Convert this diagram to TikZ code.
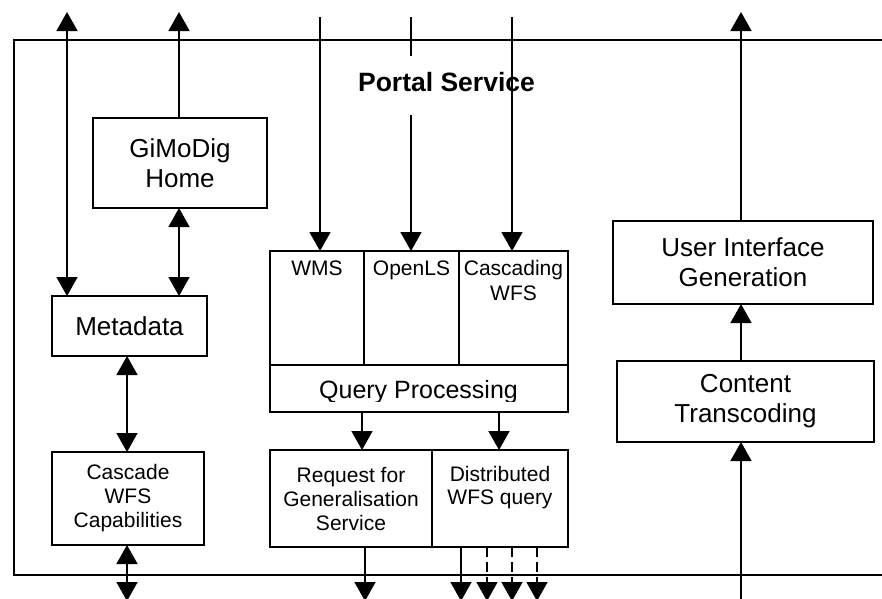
\documentclass[tikz,border=0pt]{standalone}
\usepackage{fontspec}
\setmainfont{Liberation Sans}
\usetikzlibrary{arrows.meta}
\begin{document}
\begin{tikzpicture}[x=1pt,y=-1pt,
  every node/.style={inner sep=0pt, outer sep=0pt},
  box/.style={draw, line width=1.6pt},
  big/.style={font=\fontsize{26}{30}\selectfont, align=center},
  small/.style={font=\fontsize{21}{24}\selectfont, align=center},
  plain/.style={line width=1.6pt},
  link/.style={plain, -{Triangle[length=19pt,width=21pt]}},
  both/.style={plain, {Triangle[length=19pt,width=21pt]}-{Triangle[length=19pt,width=21pt]}},
  dashlink/.style={link, dash pattern=on 10pt off 5pt},
]
\useasboundingbox (0,0) rectangle (882,598);
\clip (0,0) rectangle (882,598);

% service frame, open to the right
\draw[plain] (882,40) -- (14,40) -- (14,575) -- (882,575);

\node[font=\bfseries\fontsize{26.5}{30}\selectfont, anchor=base] (title) at (446.5,91) {Portal Service};

% left column
\node[box, big, minimum width=174pt, minimum height=90pt] (home) at (180,163) {GiMoDig\\Home};
\node[box, big, minimum width=155pt, minimum height=60pt] (meta) at (129.5,326) {Metadata};
\node[box, small, minimum width=152pt, minimum height=93pt] (casc) at (128,498.5) {Cascade\\WFS\\Capabilities};

% service interfaces and query processing
\node[box, minimum width=94pt, minimum height=114pt] (wms) at (317,308) {};
\node[box, minimum width=95pt, minimum height=114pt] (openls) at (411.5,308) {};
\node[box, minimum width=109pt, minimum height=114pt] (cwfs) at (513.5,308) {};
\node[small, anchor=base] (wmsT) at (317,275) {WMS};
\node[small, anchor=base] (openlsT) at (411.5,275) {OpenLS};
\node[small, anchor=base] (cwfsT1) at (513.5,275) {Cascading};
\node[small, anchor=base] (cwfsT2) at (513.5,300) {WFS};

\node[box, minimum width=298pt, minimum height=47pt] (qp) at (419,388.5) {};
\begin{scope}
  \clip (270,365) rectangle (568,401);
  \node[font=\fontsize{25}{29}\selectfont, anchor=base] (qpT) at (418.5,398) {Query Processing};
\end{scope}

\node[box, small, minimum width=162pt, minimum height=97pt] (req) at (351,498.5) {Request for\\Generalisation\\Service};
\node[box, minimum width=136pt, minimum height=97pt] (dist) at (500,498.5) {};
\node[small, anchor=base] (distT1) at (500,481.5) {Distributed};
\node[small, anchor=base] (distT2) at (500,504.5) {WFS query};

% right column
\node[box, big, minimum width=260pt, minimum height=83pt] (uig) at (743,262.5) {User Interface\\Generation};
\node[box, big, minimum width=257pt, minimum height=81pt] (ct) at (745.5,401.5) {Content\\Transcoding};

% connectors of the left column
\coordinate (topA) at (67,12);
\coordinate (topB) at (179,12);
\coordinate (colC) at (127,0);
\coordinate (botC) at (127,601);
\draw[both] (topA) -- (topA |- meta.north);
\draw[link] (home.north -| topB) -- (topB);
\draw[both] (home.south -| topB) -- (meta.north -| topB);
\draw[both] (meta.south -| colC) -- (casc.north -| colC);
\draw[both] (casc.south -| botC) -- (botC);

% incoming requests
\coordinate (inW) at (320,17);
\coordinate (inO) at (411,17);
\coordinate (gapA) at (411,56);
\coordinate (gapB) at (411,115);
\coordinate (inC) at (512,17);
\draw[link] (inW) -- (inW |- wms.north);
\draw[plain] (inO) -- (gapA);
\draw[link] (gapB) -- (gapB |- openls.north);
\draw[link] (inC) -- (inC |- cwfs.north);

% query processing to outgoing requests
\coordinate (q1) at (362,0);
\coordinate (q2) at (499,0);
\draw[link] (qp.south -| q1) -- (req.north -| q1);
\draw[link] (qp.south -| q2) -- (dist.north -| q2);

\coordinate (outR) at (365,601);
\coordinate (outD1) at (461,601);
\coordinate (outD2) at (487,601);
\coordinate (outD3) at (512,601);
\coordinate (outD4) at (537,601);
\draw[link] (req.south -| outR) -- (outR);
\draw[link] (dist.south -| outD1) -- (outD1);
\draw[dashlink] (dist.south -| outD2) -- (outD2);
\draw[dashlink] (dist.south -| outD3) -- (outD3);
\draw[dashlink] (dist.south -| outD4) -- (outD4);

% connectors of the right column
\coordinate (upR) at (741,12);
\coordinate (inR) at (741,600);
\draw[link] (uig.north -| upR) -- (upR);
\draw[link] (ct.north -| upR) -- (uig.south -| upR);
\draw[link] (inR) -- (ct.south -| inR);
\end{tikzpicture}
\end{document}
